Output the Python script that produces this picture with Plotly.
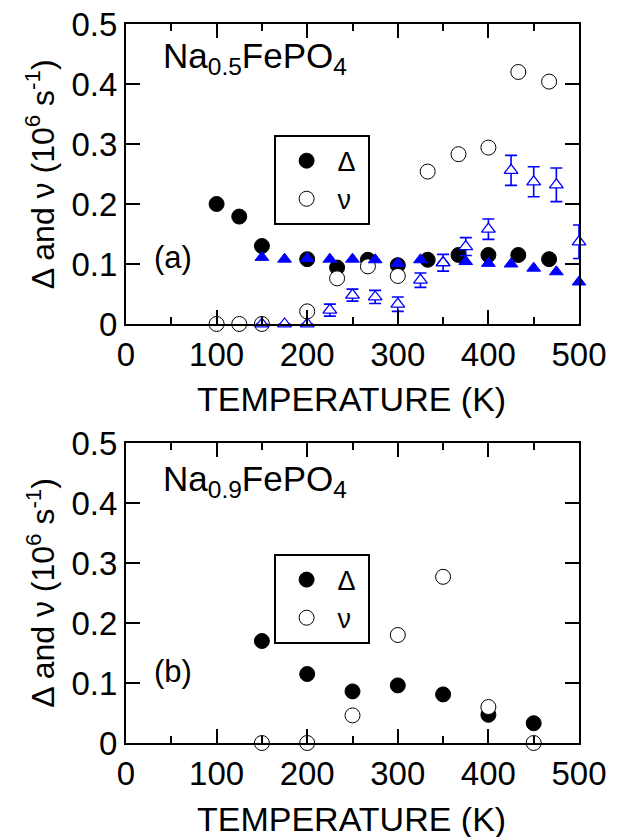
import plotly.graph_objects as go
from plotly.subplots import make_subplots

# ---------------- data ----------------
# Panel (a): Na0.5FePO4
T_a = [100, 125, 150, 200, 233, 267, 300, 333, 367, 400, 433, 467]
delta_a = [0.200, 0.179, 0.130, 0.108, 0.094, 0.107, 0.098, 0.107, 0.115, 0.115, 0.115, 0.108]
nu_a = [0.0, 0.0, 0.0, 0.021, 0.076, 0.096, 0.080, 0.254, 0.283, 0.294, 0.420, 0.404]

T_tri_fill = [150, 175, 200, 225, 250, 275, 300, 325, 350, 375, 400, 425, 450, 475, 500]
tri_fill = [0.111, 0.108, 0.109, 0.108, 0.108, 0.107, 0.101, 0.107, 0.103, 0.104, 0.101, 0.100, 0.093, 0.087, 0.070]

T_tri_open = [150, 175, 200, 225, 250, 275, 300, 325, 350, 375, 400, 425, 450, 475, 500]
tri_open = [0.0, 0.0, 0.0, 0.023, 0.048, 0.045, 0.033, 0.073, 0.102, 0.129, 0.158, 0.256, 0.237, 0.232, 0.137]
tri_open_err = [0.0, 0.0, 0.0, 0.010, 0.010, 0.011, 0.012, 0.012, 0.014, 0.015, 0.017, 0.025, 0.025, 0.028, 0.028]

# Panel (b): Na0.9FePO4
T_b = [150, 200, 250, 300, 350, 400, 450]
delta_b = [0.170, 0.115, 0.086, 0.096, 0.081, 0.047, 0.033]
nu_b = [0.0, 0.0, 0.046, 0.180, 0.277, 0.060, 0.0]

x_ticks = [0, 100, 200, 300, 400, 500]
y_ticks = [0, 0.1, 0.2, 0.3, 0.4, 0.5]
y_ticklabels = ["0", "0.1", "0.2", "0.3", "0.4", "0.5"]

FONT = "Liberation Sans, Arial, Helvetica, sans-serif"
BLUE = "#0000ff"
NB = "\u00a0"

fig = make_subplots(rows=2, cols=1, vertical_spacing=0.1656)

def add_circles(T, d, n, row, legend):
    fig.add_trace(go.Scatter(x=T, y=d, mode="markers", name="Δ" + NB,
                             marker=dict(symbol="circle", size=15, color="black",
                                         line=dict(color="black", width=1)),
                             cliponaxis=False, legend=legend), row=row, col=1)
    fig.add_trace(go.Scatter(x=T, y=n, mode="markers", name="ν" + NB,
                             marker=dict(symbol="circle", size=15, color="white",
                                         line=dict(color="black", width=1)),
                             cliponaxis=False, legend=legend), row=row, col=1)

add_circles(T_a, delta_a, nu_a, 1, "legend")

fig.add_trace(go.Scatter(x=T_tri_fill, y=tri_fill, mode="markers", showlegend=False,
                         marker=dict(symbol="triangle-up", size=12, color=BLUE,
                                     line=dict(color=BLUE, width=1)),
                         cliponaxis=False), row=1, col=1)
fig.add_trace(go.Scatter(x=T_tri_open, y=tri_open, mode="markers", showlegend=False,
                         marker=dict(symbol="triangle-up", size=12, color="white",
                                     line=dict(color=BLUE, width=1.3)),
                         error_y=dict(type="data", array=tri_open_err, visible=True,
                                      color=BLUE, thickness=1.6, width=6),
                         cliponaxis=False), row=1, col=1)

add_circles(T_b, delta_b, nu_b, 2, "legend2")

axis_common = dict(showline=True, linecolor="black", linewidth=2, mirror="ticks",
                   ticks="inside", tickcolor="black", tickwidth=1.6, ticklen=14,
                   showgrid=False, zeroline=False, automargin=False,
                   tickfont=dict(family=FONT, size=33, color="black"))

for r in (1, 2):
    fig.update_xaxes(range=[0, 500], tickvals=x_ticks,
                     minor=dict(dtick=50, ticks="inside", ticklen=7, tickwidth=1.6,
                                tickcolor="black", showgrid=False),
                     **axis_common, row=r, col=1)
    fig.update_yaxes(range=[0, 0.5], tickvals=y_ticks, ticktext=y_ticklabels,
                     **axis_common, row=r, col=1)

legend_common = dict(xanchor="left", yanchor="top", bgcolor="white",
                     bordercolor="black", borderwidth=1.6, itemwidth=52,
                     font=dict(family=FONT, size=27, color="black"))

annotations = []
for i, (ylab, ytitle, ysub, ytag, tag, comp) in enumerate([
        (0.7909, 0.4784, 0.885, 0.22, "(a)", "Na<sub>0.5</sub>FePO<sub>4</sub>"),
        (0.2086, -0.1057, 0.875, 0.24, "(b)", "Na<sub>0.9</sub>FePO<sub>4</sub>")]):
    xd = "x domain" if i == 0 else "x2 domain"
    yd = "y domain" if i == 0 else "y2 domain"
    annotations.append(dict(xref="paper", yref="paper", x=-0.188, y=ylab,
                            text="Δ and ν (10<sup>6</sup> s<sup>-1</sup>)", textangle=-90,
                            showarrow=False, xanchor="center", yanchor="middle",
                            font=dict(family=FONT, size=32, color="black")))
    annotations.append(dict(xref="paper", yref="paper", x=0.497, y=ytitle,
                            text="TEMPERATURE (K)", showarrow=False,
                            xanchor="center", yanchor="middle",
                            font=dict(family=FONT, size=34, color="black")))
    annotations.append(dict(xref=xd, yref=yd, x=0.078, y=ysub, text=comp,
                            showarrow=False, xanchor="left", yanchor="middle",
                            font=dict(family=FONT, size=35, color="black")))
    annotations.append(dict(xref=xd, yref=yd, x=0.058, y=ytag, text=tag,
                            showarrow=False, xanchor="left", yanchor="middle",
                            font=dict(family=FONT, size=31, color="black")))

fig.update_layout(
    width=618, height=837,
    margin=dict(l=126, r=39, t=24, b=94, autoexpand=False),
    paper_bgcolor="white", plot_bgcolor="white",
    font=dict(family=FONT, color="black"),
    annotations=annotations,
    legend=dict(x=0.3267, y=0.8456, **legend_common),
    legend2=dict(x=0.3267, y=0.2629, **legend_common),
)

# remove the browser's default 8 px body margin so the figure sits at the page origin
fig.write_html("out.html", config={"displayModeBar": False},
               post_script="document.body.style.margin='0';document.body.style.overflow='hidden';")
